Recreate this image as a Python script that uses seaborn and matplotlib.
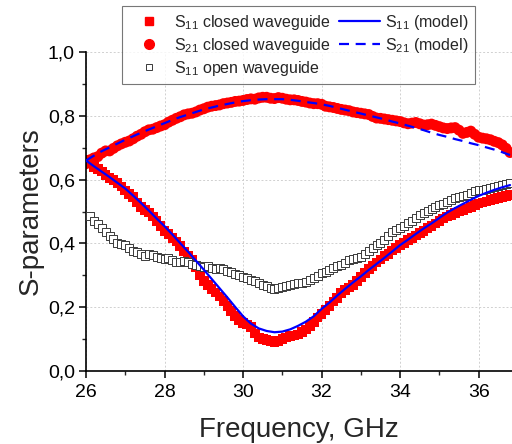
import numpy as np
import pandas as pd
import seaborn as sns
import matplotlib.pyplot as plt
from matplotlib.lines import Line2D
from matplotlib.ticker import MultipleLocator

# closed waveguide measurement, 0.1 GHz step
freq_closed = [26.0, 26.1, 26.2, 26.3, 26.4, 26.5, 26.6, 26.7, 26.8, 26.9,
               27.0, 27.1, 27.2, 27.3, 27.4, 27.5, 27.6, 27.7, 27.8, 27.9,
               28.0, 28.1, 28.2, 28.3, 28.4, 28.5, 28.6, 28.7, 28.8, 28.9,
               29.0, 29.1, 29.2, 29.3, 29.4, 29.5, 29.6, 29.7, 29.8, 29.9,
               30.0, 30.1, 30.2, 30.3, 30.4, 30.5, 30.6, 30.7, 30.8, 30.9,
               31.0, 31.1, 31.2, 31.3, 31.4, 31.5, 31.6, 31.7, 31.8, 31.9,
               32.0, 32.1, 32.2, 32.3, 32.4, 32.5, 32.6, 32.7, 32.8, 32.9,
               33.0, 33.1, 33.2, 33.3, 33.4, 33.5, 33.6, 33.7, 33.8, 33.9,
               34.0, 34.1, 34.2, 34.3, 34.4, 34.5, 34.6, 34.7, 34.8, 34.9,
               35.0, 35.1, 35.2, 35.3, 35.4, 35.5, 35.6, 35.7, 35.8, 35.9,
               36.0, 36.1, 36.2, 36.3, 36.4, 36.5, 36.6, 36.7, 36.8]

s11_closed = [0.662, 0.650, 0.640, 0.634, 0.625, 0.614, 0.605, 0.598, 0.590, 0.578,
              0.566, 0.556, 0.545, 0.528, 0.515, 0.505, 0.497, 0.484, 0.470, 0.455,
              0.440, 0.430, 0.418, 0.406, 0.392, 0.375, 0.362, 0.348, 0.325, 0.302,
              0.283, 0.270, 0.258, 0.246, 0.234, 0.220, 0.205, 0.188, 0.172, 0.160,
              0.150, 0.146, 0.138, 0.118, 0.105, 0.100, 0.098, 0.094, 0.090, 0.095,
              0.100, 0.106, 0.110, 0.112, 0.115, 0.122, 0.130, 0.142, 0.155, 0.168,
              0.180, 0.192, 0.205, 0.218, 0.230, 0.244, 0.255, 0.262, 0.270, 0.283,
              0.295, 0.308, 0.320, 0.330, 0.340, 0.350, 0.360, 0.368, 0.378, 0.386,
              0.395, 0.402, 0.410, 0.418, 0.425, 0.432, 0.440, 0.448, 0.455, 0.463,
              0.470, 0.478, 0.485, 0.490, 0.495, 0.500, 0.505, 0.510, 0.515, 0.520,
              0.525, 0.528, 0.532, 0.536, 0.540, 0.542, 0.545, 0.548, 0.552]

s21_closed = [0.650, 0.662, 0.668, 0.672, 0.683, 0.690, 0.690, 0.698, 0.706, 0.712,
              0.717, 0.721, 0.728, 0.736, 0.742, 0.750, 0.756, 0.758, 0.763, 0.768,
              0.772, 0.780, 0.786, 0.792, 0.797, 0.803, 0.806, 0.808, 0.812, 0.818,
              0.822, 0.827, 0.830, 0.832, 0.834, 0.838, 0.840, 0.842, 0.845, 0.846,
              0.848, 0.851, 0.853, 0.852, 0.856, 0.858, 0.858, 0.855, 0.854, 0.857,
              0.855, 0.852, 0.850, 0.850, 0.848, 0.845, 0.843, 0.840, 0.838, 0.838,
              0.836, 0.830, 0.828, 0.826, 0.823, 0.820, 0.818, 0.816, 0.812, 0.810,
              0.808, 0.806, 0.804, 0.798, 0.793, 0.792, 0.790, 0.788, 0.786, 0.784,
              0.782, 0.778, 0.775, 0.777, 0.779, 0.775, 0.771, 0.772, 0.774, 0.770,
              0.766, 0.762, 0.760, 0.762, 0.763, 0.755, 0.745, 0.748, 0.752, 0.742,
              0.733, 0.730, 0.728, 0.725, 0.720, 0.716, 0.709, 0.698, 0.685]

# model curves, 0.2 GHz step
freq_model = [26.0, 26.2, 26.4, 26.6, 26.8, 27.0, 27.2, 27.4, 27.6, 27.8,
              28.0, 28.2, 28.4, 28.6, 28.8, 29.0, 29.2, 29.4, 29.6, 29.8,
              30.0, 30.2, 30.4, 30.6, 30.8, 31.0, 31.2, 31.4, 31.6, 31.8,
              32.0, 32.2, 32.4, 32.6, 32.8, 33.0, 33.2, 33.4, 33.6, 33.8,
              34.0, 34.2, 34.4, 34.6, 34.8, 35.0, 35.2, 35.4, 35.6, 35.8,
              36.0, 36.2, 36.4, 36.6, 36.8]

s11_model = [0.660, 0.642, 0.625, 0.608, 0.590, 0.572, 0.550, 0.527, 0.503, 0.478,
             0.454, 0.428, 0.401, 0.374, 0.346, 0.318, 0.289, 0.260, 0.231, 0.201,
             0.172, 0.149, 0.134, 0.126, 0.122, 0.124, 0.131, 0.142, 0.155, 0.172,
             0.195, 0.215, 0.237, 0.258, 0.278, 0.297, 0.317, 0.336, 0.355, 0.375,
             0.395, 0.412, 0.430, 0.447, 0.463, 0.480, 0.497, 0.511, 0.524, 0.537,
             0.549, 0.559, 0.568, 0.576, 0.583]

s21_model = [0.660, 0.675, 0.689, 0.701, 0.713, 0.725, 0.736, 0.747, 0.757, 0.767,
             0.777, 0.787, 0.796, 0.804, 0.812, 0.820, 0.826, 0.832, 0.837, 0.842,
             0.846, 0.849, 0.851, 0.852, 0.852, 0.852, 0.850, 0.847, 0.843, 0.840,
             0.836, 0.831, 0.825, 0.819, 0.813, 0.807, 0.801, 0.795, 0.789, 0.782,
             0.776, 0.769, 0.762, 0.755, 0.747, 0.740, 0.734, 0.727, 0.721, 0.714,
             0.708, 0.701, 0.694, 0.686, 0.677]

# open waveguide measurement
freq_open = [26.1, 26.2, 26.3, 26.4, 26.5, 26.6, 26.7, 26.8, 26.9, 27.0,
             27.1, 27.2, 27.3, 27.4, 27.5, 27.6, 27.7, 27.8, 27.9, 28.0,
             28.1, 28.2, 28.3, 28.4, 28.5, 28.6, 28.7, 28.8, 28.9, 29.0,
             29.1, 29.2, 29.3, 29.4, 29.5, 29.6, 29.7, 29.8, 29.9, 30.0,
             30.1, 30.2, 30.3, 30.4, 30.5, 30.6, 30.7, 30.8, 30.9, 31.0,
             31.1, 31.2, 31.3, 31.4, 31.5, 31.6, 31.7, 31.8, 31.9, 32.0,
             32.1, 32.2, 32.3, 32.4, 32.5, 32.6, 32.7, 32.8, 32.9, 33.0,
             33.1, 33.2, 33.3, 33.4, 33.5, 33.6, 33.7, 33.8, 33.9, 34.0,
             34.1, 34.2, 34.3, 34.4, 34.5, 34.6, 34.7, 34.8, 34.9, 35.0,
             35.1, 35.2, 35.3, 35.4, 35.5, 35.6, 35.7, 35.8, 35.9, 36.0,
             36.1, 36.2, 36.3, 36.4, 36.5, 36.6, 36.7, 36.8]

s11_open = [0.485, 0.472, 0.460, 0.448, 0.437, 0.425, 0.413, 0.402, 0.398, 0.394,
            0.386, 0.378, 0.372, 0.366, 0.362, 0.366, 0.363, 0.358, 0.354, 0.352,
            0.354, 0.349, 0.343, 0.341, 0.345, 0.342, 0.337, 0.333, 0.330, 0.327,
            0.328, 0.324, 0.321, 0.323, 0.319, 0.315, 0.311, 0.305, 0.300, 0.296,
            0.293, 0.287, 0.281, 0.275, 0.270, 0.266, 0.262, 0.258, 0.260, 0.264,
            0.267, 0.270, 0.273, 0.275, 0.276, 0.280, 0.285, 0.292, 0.299, 0.306,
            0.312, 0.317, 0.323, 0.328, 0.334, 0.340, 0.347, 0.352, 0.355, 0.358,
            0.366, 0.376, 0.386, 0.395, 0.403, 0.412, 0.425, 0.436, 0.442, 0.447,
            0.455, 0.463, 0.472, 0.481, 0.489, 0.496, 0.503, 0.508, 0.514, 0.520,
            0.525, 0.530, 0.536, 0.541, 0.546, 0.549, 0.553, 0.558, 0.563, 0.567,
            0.569, 0.571, 0.574, 0.577, 0.579, 0.582, 0.586, 0.590]

y_ticks = [0.0, 0.2, 0.4, 0.6, 0.8, 1.0]
y_tick_labels = ['0,0', '0,2', '0,4', '0,6', '0,8', '1,0']
x_ticks = [26, 28, 30, 32, 34, 36]

sns.set_style('ticks')
plt.rcParams['font.family'] = ['Liberation Sans', 'DejaVu Sans']
plt.rcParams['mathtext.fontset'] = 'custom'
plt.rcParams['mathtext.rm'] = 'Liberation Sans'
plt.rcParams['mathtext.it'] = 'Liberation Sans:italic'

closed = pd.DataFrame({'f': freq_closed, 's11': s11_closed, 's21': s21_closed})
model = pd.DataFrame({'f': freq_model, 'm11': s11_model, 'm21': s21_model})
opened = pd.DataFrame({'f': freq_open, 's11': s11_open})

fig = plt.figure(figsize=(5.12, 4.44), dpi=100)
ax = fig.add_axes([0.168, 0.164, 0.832, 0.719])

red = '#ff0000'
blue = '#0000ff'
dash = (0, (4.5, 3))

sns.scatterplot(data=closed, x='f', y='s11', marker='s', s=48, color=red,
                edgecolor='none', ax=ax, zorder=2)
sns.scatterplot(data=closed, x='f', y='s21', marker='o', s=62, color=red,
                edgecolor='none', ax=ax, zorder=2)
sns.scatterplot(data=opened, x='f', y='s11', marker='s', s=34, facecolor='white',
                edgecolor='#3a3a3a', linewidth=0.7, ax=ax, zorder=3)
sns.lineplot(data=model, x='f', y='m11', color=blue, lw=1.6, ax=ax, zorder=4)
sns.lineplot(data=model, x='f', y='m21', color=blue, lw=1.6, ax=ax, zorder=4,
             linestyle=dash)

ax.set_xlim(26, 36.85)
ax.set_ylim(0, 1.0)
ax.set_xticks(x_ticks)
ax.set_yticks(y_ticks, y_tick_labels)
ax.xaxis.set_minor_locator(MultipleLocator(1))
ax.yaxis.set_minor_locator(MultipleLocator(0.1))
ax.tick_params(which='major', direction='out', length=5, width=1.1, labelsize=14,
               colors='black', pad=3)
ax.tick_params(axis='x', which='major', pad=4)
ax.tick_params(which='minor', direction='out', length=3, width=1.0)
ax.grid(True, which='major', color='#d0d0d0', linestyle=(0, (2, 2)), linewidth=0.7)
ax.set_axisbelow(True)
for side in ['top', 'right']:
    ax.spines[side].set_visible(False)
for side in ['left', 'bottom']:
    ax.spines[side].set_linewidth(1.2)
    ax.spines[side].set_color('black')

ax.set_xlabel('Frequency, GHz', fontsize=20, labelpad=12)
ax.set_ylabel('S-parameters', fontsize=20, labelpad=3)

handles = [
    Line2D([], [], ls='none', marker='s', ms=6, color=red, mec=red),
    Line2D([], [], ls='none', marker='o', ms=7, color=red, mec=red),
    Line2D([], [], ls='none', marker='s', ms=5, mfc='white', mec='#3a3a3a', mew=0.7),
    Line2D([], [], color=blue, lw=1.6),
    Line2D([], [], color=blue, lw=1.6, ls=dash),
]
labels = [r'S$_{11}$ closed waveguide', r'S$_{21}$ closed waveguide',
          r'S$_{11}$ open waveguide', r'S$_{11}$ (model)', r'S$_{21}$ (model)']
leg = fig.legend(handles, labels, ncol=2, loc='upper left',
                 bbox_to_anchor=(0.222, 1.004), fontsize=11.5, frameon=True,
                 fancybox=False, edgecolor='#555555', handlelength=2.6,
                 handletextpad=0.3, columnspacing=0.5, labelspacing=0.25,
                 borderpad=0.4)
leg.get_frame().set_linewidth(0.8)

fig.savefig('out.png', dpi=100)
